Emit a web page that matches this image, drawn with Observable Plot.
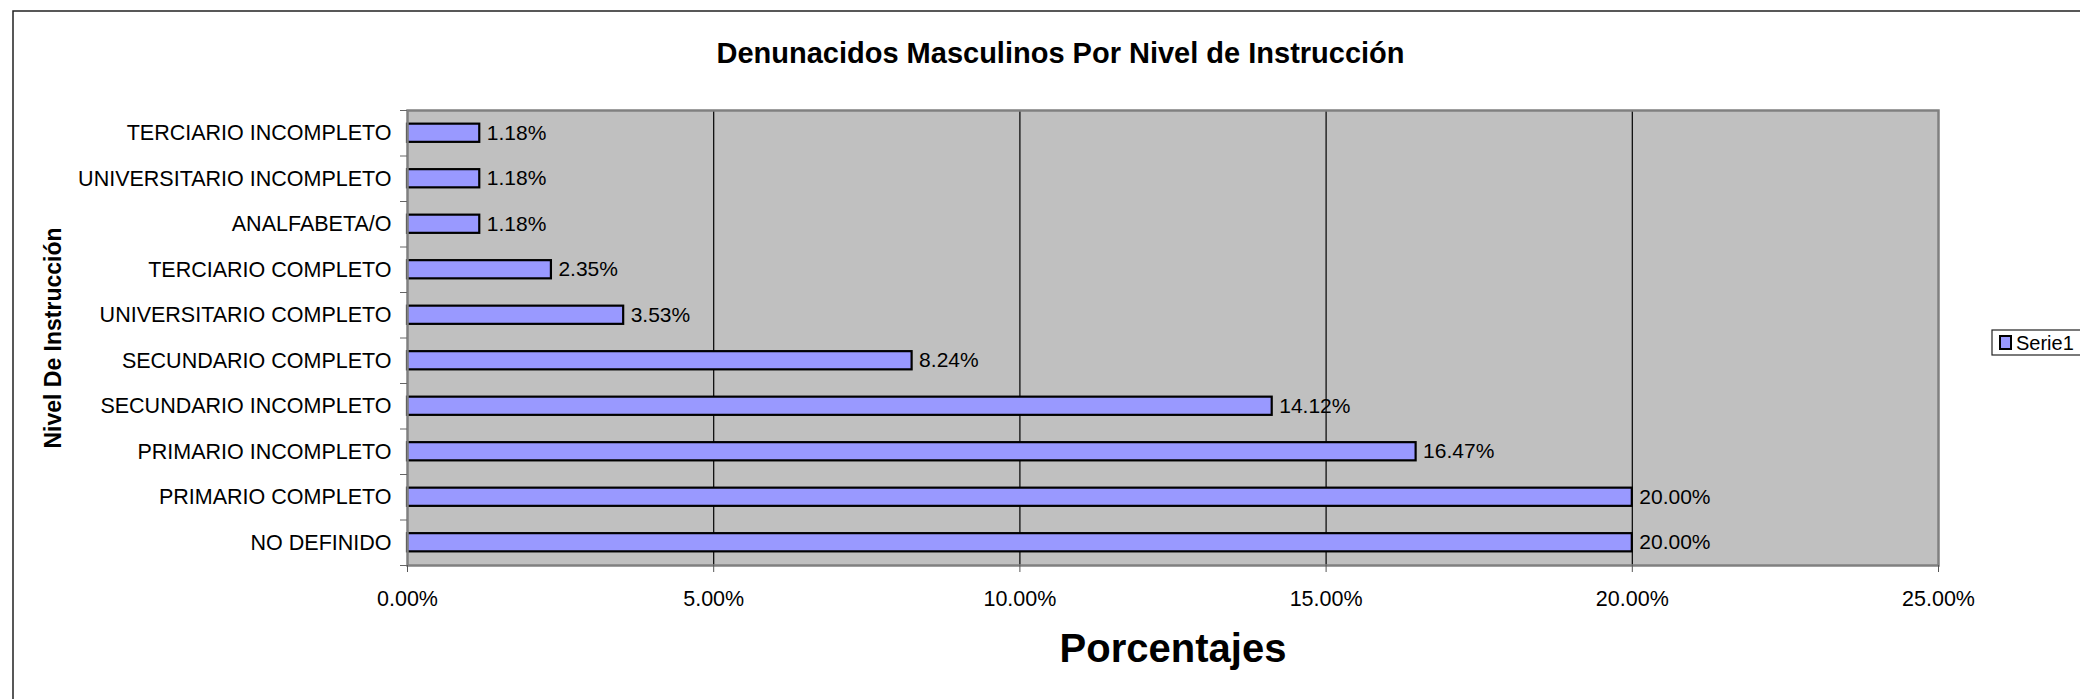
<!DOCTYPE html>
<html>
<head>
<meta charset="utf-8">
<script src="https://cdn.jsdelivr.net/npm/d3@7"></script>
<script src="https://cdn.jsdelivr.net/npm/@observablehq/plot@0.6"></script>
<style>
  html, body { margin: 0; padding: 0; background: #fff; overflow: hidden; }
  #chart { position: relative; width: 2080px; height: 699px; }
  #chart svg { display: block; overflow: hidden; }
</style>
</head>
<body>
<div id="chart"></div>
<script>
const categories = [
  "TERCIARIO INCOMPLETO",
  "UNIVERSITARIO INCOMPLETO",
  "ANALFABETA/O",
  "TERCIARIO COMPLETO",
  "UNIVERSITARIO COMPLETO",
  "SECUNDARIO COMPLETO",
  "SECUNDARIO INCOMPLETO",
  "PRIMARIO INCOMPLETO",
  "PRIMARIO COMPLETO",
  "NO DEFINIDO"
];
const values = [0.0118, 0.0118, 0.0118, 0.0235, 0.0353, 0.0824, 0.1412, 0.1647, 0.2000, 0.2000];
const xTicks = [0, 0.05, 0.10, 0.15, 0.20, 0.25];
const seriesName = "Serie1";
const titleText = "Denunacidos Masculinos Por Nivel de Instrucción";
const xLabel = "Porcentajes";
const yLabel = "Nivel De Instrucción";

const data = categories.map((c, i) => ({category: c, value: values[i]}));
const pct = d3.format(".2%");

const W = 2080, H = 699;
const mL = 407, mR = W - 1938, mT = 110, mB = H - 565;
const step = (H - mB - mT) / categories.length;
const font = "'Liberation Sans', Arial, sans-serif";

const chart = Plot.plot({
  width: W,
  height: H,
  marginLeft: mL,
  marginRight: mR,
  marginTop: mT,
  marginBottom: mB,
  style: {fontFamily: font, background: "white", color: "black"},
  x: {domain: [0, 0.25], ticks: xTicks},
  y: {domain: categories, paddingInner: 0.6, paddingOuter: 0.3, round: false},
  marks: [
    Plot.frame({fill: "#C0C0C0", stroke: null}),
    Plot.ruleX(xTicks.slice(1, -1), {stroke: "black", strokeWidth: 1.2}),
    Plot.barX(data, {x: "value", y: "category", fill: "#9999FF", stroke: "black", strokeWidth: 2.2}),
    Plot.text(data, {x: "value", y: "category", text: d => pct(d.value), textAnchor: "start", dx: 7, fontSize: 21, fill: "black"}),
    Plot.frame({stroke: "#808080", strokeWidth: 2.5, fill: null}),
    Plot.axisX({ticks: xTicks, tickFormat: pct, tickSize: 7, tickPadding: 18, fontSize: 21.5, label: null, stroke: "#555"}),
    Plot.axisY({tickSize: 0, tickPadding: 16, fontSize: 21.5, label: null}),
    Plot.axisY({tickSize: 7, text: null, label: null, dy: step / 2, stroke: "#666"}),
    Plot.axisY({ticks: [categories[0]], tickSize: 7, text: null, label: null, dy: -step / 2, stroke: "#666"}),
    Plot.text([titleText], {frameAnchor: "top-left", dx: 1060 - mL, dy: 53 - mT, textAnchor: "middle", lineAnchor: "middle", fontSize: 29, fontWeight: "bold", fill: "black"}),
    Plot.text([xLabel], {frameAnchor: "bottom", dy: 84, lineAnchor: "middle", fontSize: 40, fontWeight: "bold", fill: "black"}),
    Plot.text([yLabel], {frameAnchor: "left", dx: 53 - mL, rotate: -90, textAnchor: "middle", lineAnchor: "middle", fontSize: 23, fontWeight: "bold", fill: "black"})
  ]
});
document.getElementById("chart").appendChild(chart);

// chart-area border (Excel chart frame) and legend box
const svg = d3.select(chart);
svg.append("path")
  .attr("d", `M13,${H + 2}V11H${W + 2}`)
  .attr("fill", "none").attr("stroke", "#222").attr("stroke-width", 1.5);
const lg = svg.append("g").attr("transform", "translate(1992,330)");
lg.append("rect").attr("x", 0).attr("y", 0).attr("width", 120).attr("height", 25)
  .attr("fill", "white").attr("stroke", "#222").attr("stroke-width", 1.2);
lg.append("rect").attr("x", 8).attr("y", 6).attr("width", 11).attr("height", 13)
  .attr("fill", "#9999FF").attr("stroke", "black").attr("stroke-width", 2);
lg.append("text").attr("x", 24).attr("y", 20).attr("font-size", 20)
  .attr("text-anchor", "start")
  .attr("font-family", font).attr("fill", "black").text(seriesName);
</script>
</body>
</html>
